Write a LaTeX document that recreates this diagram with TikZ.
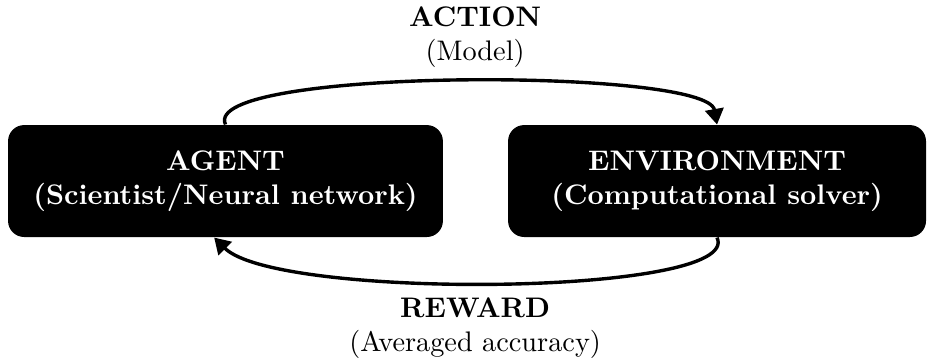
\documentclass[tikz,border=0pt]{standalone}
\usetikzlibrary{arrows.meta}
\usetikzlibrary{positioning}

\begin{document}
\begin{tikzpicture}[
  block/.style={fill=black, text=white, rounded corners=0.2cm, align=center, font=\bfseries, minimum height=1.39cm, inner sep=0},
  flow/.style={black, very thick, ->, >={Triangle[length=5.5pt,width=6.5pt]}},
  lbl/.style={align=center, inner sep=0}
]
\useasboundingbox (0,0) rectangle (11.586,-4.495);
\node[block, minimum width=5.40cm] (agent) at (2.80,-2.248) {AGENT\\(Scientist/Neural network)};
\node[block, minimum width=5.19cm, right=0.795cm of agent] (env) {ENVIRONMENT\\(Computational solver)};
% labels sit over the gap between the two blocks
\node[lbl] (action) at (5.90,-0.46) {\textbf{ACTION}\\(Model)};
\node[lbl] (reward) at (5.90,-4.07) {\textbf{REWARD}\\(Averaged accuracy)};
\draw[flow] (agent.north) .. controls +(115:0.78) and +(100:0.72) .. (env.north);
\draw[flow] (env.south) .. controls +(-65:0.8) and +(-45:1.1) .. ([xshift=-4pt]agent.south);
\end{tikzpicture}
\end{document}
